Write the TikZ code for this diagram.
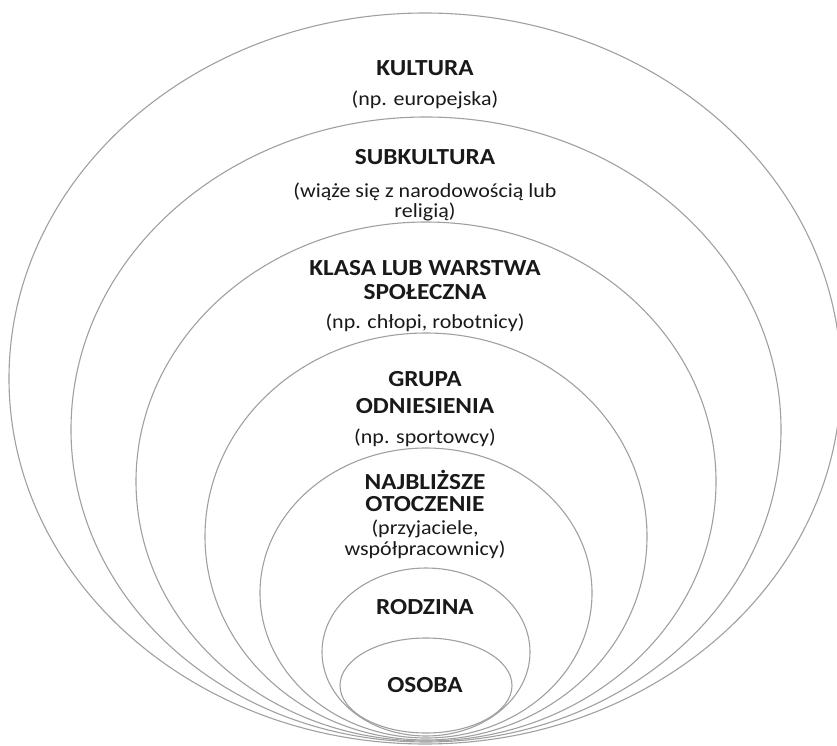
\documentclass[tikz,border=0pt]{standalone}
\usepackage{fontspec}
\setmainfont[FakeStretch=1.1]{Carlito}
\usepackage{tikz}
\usetikzlibrary{shapes.geometric}
\definecolor{RingGray}{RGB}{160,160,160}
\definecolor{LabelBlack}{RGB}{25,25,25}

\begin{document}
\begin{tikzpicture}[
    x=1pt, y=-1pt,
    ring/.style={
        draw=RingGray,
        line width=1.1pt,
        ellipse,
        inner sep=0pt
    },
    title/.style={
        align=center,
        text=LabelBlack,
        inner sep=0pt,
        font=\fontsize{23}{24}\selectfont\bfseries
    },
    note/.style={
        align=center,
        text=LabelBlack,
        inner sep=0pt,
        font=\fontsize{20}{20}\selectfont
    }
]
\useasboundingbox (0,0) rectangle (837,746);

% nested circles of influence
\node[ring, minimum width=832pt, minimum height=731pt] (kultura) at (425,378.5) {};
\node[ring, minimum width=710pt, minimum height=625pt] (subkultura) at (426,429.5) {};
\node[ring, minimum width=580pt, minimum height=519pt] (klasa) at (426,481.5) {};
\node[ring, minimum width=442pt, minimum height=407pt] (grupa) at (426,536.5) {};
\node[ring, minimum width=332pt, minimum height=290pt] (otoczenie) at (426,593) {};
\node[ring, minimum width=208pt, minimum height=168pt] (rodzina) at (426,652) {};
\node[ring, minimum width=172pt, minimum height=95pt] (osoba) at (426,685.5) {};

% labels
\node[title] (t-kultura) at (425,68) {KULTURA};
\node[note] (n-kultura) at (425,100) {(np. europejska)};
\node[title] (t-subkultura) at (425,157) {SUBKULTURA};
\node[note] (n-subkultura) at (425,202) {(wiąże się z narodowością lub\\religią)};
\node[title, font=\fontsize{23}{24}\selectfont\bfseries] (t-klasa) at (425,280) {KLASA LUB WARSTWA\\SPOŁECZNA};
\node[note] (n-klasa) at (425,323) {(np. chłopi, robotnicy)};
\node[title, font=\fontsize{23}{27}\selectfont\bfseries] (t-grupa) at (425,393) {GRUPA\\ODNIESIENIA};
\node[note] (n-grupa) at (425,438) {(np. sportowcy)};
\node[title, font=\fontsize{23}{22}\selectfont\bfseries] (t-otoczenie) at (425,491) {NAJBLIŻSZE\\OTOCZENIE};
\node[note, font=\fontsize{20}{21}\selectfont] (n-otoczenie) at (425,539.5) {(przyjaciele,\\współpracownicy)};
\node[title] (t-rodzina) at (425,607) {RODZINA};
\node[title] (t-osoba) at (425,685) {OSOBA};

\end{tikzpicture}
\end{document}
